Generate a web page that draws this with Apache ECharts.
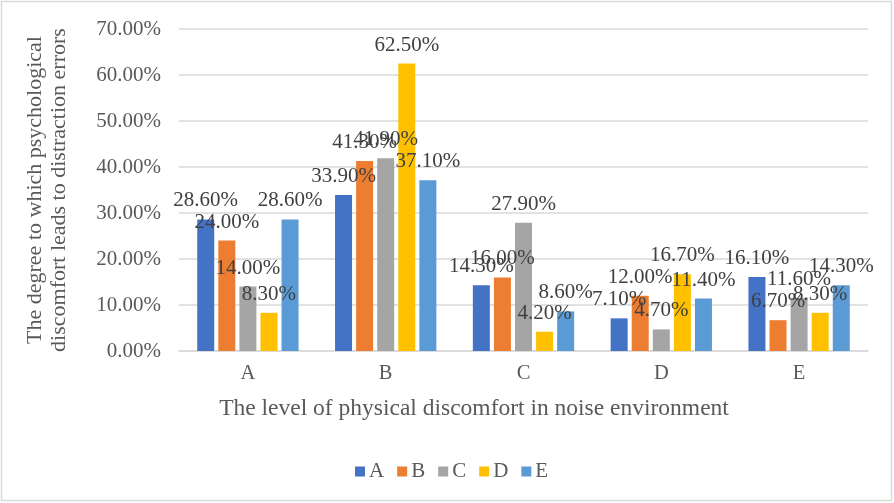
<!DOCTYPE html>
<html>
<head>
<meta charset="utf-8">
<script src="https://cdn.jsdelivr.net/npm/echarts@6/dist/echarts.min.js"></script>
<style>
html,body{margin:0;padding:0;background:#fff;}
#c{width:894px;height:503px;}
</style>
</head>
<body>
<div id="c"></div>
<script>
const categories = ['A', 'B', 'C', 'D', 'E'];
const seriesNames = ['A', 'B', 'C', 'D', 'E'];
const valuesA = [28.6, 33.9, 14.3, 7.1, 16.1];
const valuesB = [24.0, 41.3, 16.0, 12.0, 6.7];
const valuesC = [14.0, 41.9, 27.9, 4.7, 11.6];
const valuesD = [8.3, 62.5, 4.2, 16.7, 8.3];
const valuesE = [28.6, 37.1, 8.6, 11.4, 14.3];
const yTicks = [0, 10, 20, 30, 40, 50, 60, 70];
const colors = ['#4472C4', '#ED7D31', '#A5A5A5', '#FFC000', '#5B9BD5'];
const allValues = [valuesA, valuesB, valuesC, valuesD, valuesE];
const font = '"Liberation Serif", "Times New Roman", serif';

const chart = echarts.init(document.getElementById('c'));
chart.setOption({
  animation: false,
  color: colors,
  textStyle: {fontFamily: font},
  graphic: [
    {type: 'rect', shape: {x: 1.5, y: 1.5, width: 890, height: 499}, style: {fill: 'none', stroke: '#d9d9d9', lineWidth: 1.5}, silent: true},
    {type: 'text', x: 474, y: 409, style: {text: 'The level of physical discomfort in noise environment', fontFamily: font, fontSize: 23.5, fill: '#595959', textAlign: 'center', textVerticalAlign: 'middle'}}
  ],
  grid: {left: 179, right: 26, top: 29, bottom: 152, containLabel: false},
  legend: {
    data: seriesNames,
    left: 350, top: 456,
    itemWidth: 10, itemHeight: 10, itemGap: 13,
    icon: 'rect',
    textStyle: {fontFamily: font, fontSize: 21, color: '#595959', padding: [0, 0, 0, -1]}
  },
  xAxis: {
    type: 'category',
    data: categories,
    axisLine: {show: true, lineStyle: {color: '#d9d9d9', width: 1.5}},
    axisTick: {show: false},
    axisLabel: {fontFamily: font, fontSize: 20.5, color: '#595959', margin: 12}
  },
  yAxis: {
    type: 'value',
    min: 0, max: 70, interval: 10,
    name: 'The degree to which psychological\ndiscomfort leads to distraction errors',
    nameLocation: 'middle',
    nameRotate: 90,
    nameGap: 108,
    nameTextStyle: {fontFamily: font, fontSize: 22, color: '#595959', lineHeight: 24},
    axisLine: {show: false},
    axisTick: {show: false},
    splitLine: {lineStyle: {color: '#d9d9d9', width: 1.5}},
    axisLabel: {fontFamily: font, fontSize: 21, color: '#595959', margin: 18,
      formatter: v => v.toFixed(2) + '%'}
  },
  series: allValues.map((vals, i) => ({
    name: seriesNames[i],
    type: 'bar',
    data: vals,
    barWidth: 17,
    barGap: '24%',
    label: {
      show: true, position: 'top', distance: 8,
      fontFamily: font, fontSize: 21, color: '#404040',
      formatter: p => p.value.toFixed(2) + '%'
    }
  }))
});
</script>
</body>
</html>
